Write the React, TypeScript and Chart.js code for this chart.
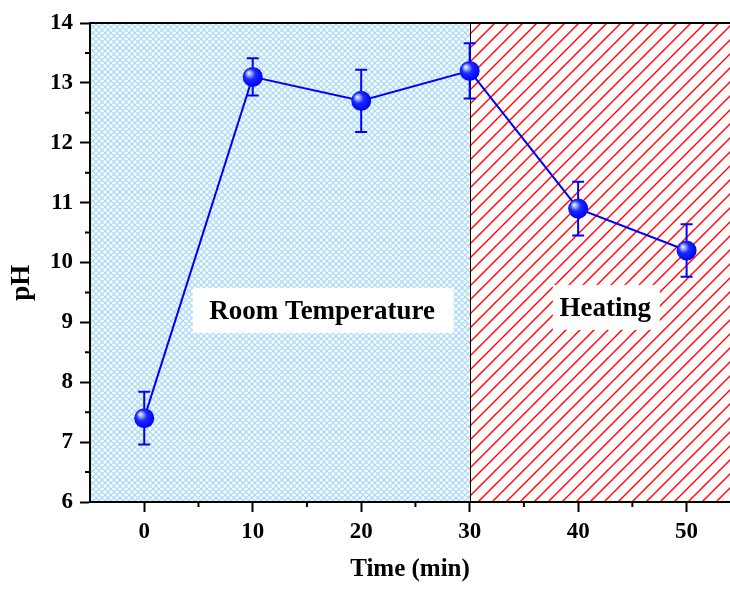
import { useEffect, useRef } from "react";
import { Chart, registerables } from "chart.js";

Chart.register(...registerables);

// ---- data ----
const times = [0, 10, 20, 30, 40, 50];
const phValues = [7.4, 13.1, 12.7, 13.2, 10.9, 10.2];
const phErrors = [0.44, 0.31, 0.52, 0.46, 0.45, 0.44];

const xTicks = [0, 10, 20, 30, 40, 50];
const xMinorTicks = [5, 15, 25, 35, 45];
const yTicks = [6, 7, 8, 9, 10, 11, 12, 13, 14];
const yMinorTicks = [6.5, 7.5, 8.5, 9.5, 10.5, 11.5, 12.5, 13.5];

const xMin = -5;
const xMax = 54;
const yMin = 6;
const yMax = 14;

const roomRange = [-5, 30];
const heatRange = [30, 54];

const regionLabels = ["Room Temperature", "Heating"];
const regionLabelX = [16.5, 42.6];
const regionLabelY = [9.2, 9.25];
const regionLabelBoxW = [261, 107];

const FONT = '"Liberation Serif", "Times New Roman", serif';

function makeCrossPattern(ctx: CanvasRenderingContext2D) {
  const s = 6;
  const c = document.createElement("canvas");
  c.width = s;
  c.height = s;
  const g = c.getContext("2d")!;
  g.fillStyle = "#ffffff";
  g.fillRect(0, 0, s, s);
  g.strokeStyle = "#a9dbf6";
  g.lineWidth = 1.3;
  g.beginPath();
  g.moveTo(-1, -1);
  g.lineTo(s + 1, s + 1);
  g.moveTo(-1, s + 1);
  g.lineTo(s + 1, -1);
  g.stroke();
  return ctx.createPattern(c, "repeat")!;
}

function makeDiagPattern(ctx: CanvasRenderingContext2D) {
  const s = 14;
  const c = document.createElement("canvas");
  c.width = s;
  c.height = s;
  const g = c.getContext("2d")!;
  g.fillStyle = "#ffffff";
  g.fillRect(0, 0, s, s);
  g.strokeStyle = "#ff0000";
  g.lineWidth = 1.4;
  g.beginPath();
  g.moveTo(-1, s + 1);
  g.lineTo(s + 1, -1);
  g.moveTo(-1 - s, s + 1);
  g.lineTo(1, -1);
  g.moveTo(s - 1, s + 1);
  g.lineTo(2 * s + 1, -1);
  g.stroke();
  return ctx.createPattern(c, "repeat")!;
}

const decorPlugin = {
  id: "decor",
  beforeDraw(chart: any) {
    const { ctx, chartArea, scales } = chart;
    const xs = scales.x;
    const { top, bottom } = chartArea;
    const l1 = xs.getPixelForValue(roomRange[0]);
    const r1 = xs.getPixelForValue(roomRange[1]);
    const l2 = xs.getPixelForValue(heatRange[0]);
    const r2 = Math.max(xs.getPixelForValue(heatRange[1]), chartArea.right);
    ctx.save();
    ctx.fillStyle = makeCrossPattern(ctx);
    ctx.fillRect(l1, top, r1 - l1, bottom - top);
    ctx.fillStyle = makeDiagPattern(ctx);
    ctx.fillRect(l2, top, r2 - l2, bottom - top);
    ctx.strokeStyle = "#000";
    ctx.lineWidth = 1;
    ctx.beginPath();
    ctx.moveTo(Math.round(r1) + 0.5, top);
    ctx.lineTo(Math.round(r1) + 0.5, bottom);
    ctx.stroke();
    ctx.restore();
  },
  beforeDatasetsDraw(chart: any) {
    const { ctx, scales } = chart;
    ctx.save();
    for (let i = 0; i < regionLabels.length; i++) {
      const cx = scales.x.getPixelForValue(regionLabelX[i]);
      const cy = scales.y.getPixelForValue(regionLabelY[i]);
      const w = regionLabelBoxW[i];
      const h = 45;
      ctx.fillStyle = "#fff";
      ctx.fillRect(cx - w / 2, cy - h / 2, w, h);
      ctx.fillStyle = "#000";
      ctx.font = `bold 27px ${FONT}`;
      ctx.textAlign = "center";
      ctx.textBaseline = "middle";
      ctx.fillText(regionLabels[i], cx - 1, cy + 1.5);
    }
    ctx.restore();
  },
  afterDatasetsDraw(chart: any) {
    const { ctx, scales } = chart;
    const xs = scales.x;
    const ys = scales.y;
    ctx.save();
    ctx.strokeStyle = "#0000ff";
    ctx.lineWidth = 2;
    for (let i = 0; i < times.length; i++) {
      const px = xs.getPixelForValue(times[i]);
      const t = ys.getPixelForValue(phValues[i] + phErrors[i]);
      const b = ys.getPixelForValue(phValues[i] - phErrors[i]);
      ctx.beginPath();
      ctx.moveTo(px, t);
      ctx.lineTo(px, b);
      ctx.moveTo(px - 6, t);
      ctx.lineTo(px + 6, t);
      ctx.moveTo(px - 6, b);
      ctx.lineTo(px + 6, b);
      ctx.stroke();
    }
    for (let i = 0; i < times.length; i++) {
      const cx = xs.getPixelForValue(times[i]);
      const cy = ys.getPixelForValue(phValues[i]);
      const r = 10;
      const g = ctx.createRadialGradient(cx - 4, cy - 4, 0.5, cx - 1, cy - 1, r + 1);
      g.addColorStop(0, "#e8efff");
      g.addColorStop(0.2, "#8fa0ff");
      g.addColorStop(0.45, "#1a2cff");
      g.addColorStop(1, "#0000f5");
      ctx.fillStyle = g;
      ctx.beginPath();
      ctx.arc(cx, cy, r, 0, Math.PI * 2);
      ctx.fill();
    }
    ctx.restore();
  },
  afterDraw(chart: any) {
    const { ctx, chartArea, scales } = chart;
    const { left, right, top, bottom } = chartArea;
    ctx.save();
    ctx.strokeStyle = "#000";
    ctx.lineWidth = 2;
    ctx.beginPath();
    ctx.moveTo(left - 1, top);
    ctx.lineTo(right, top);
    for (const v of yMinorTicks) {
      const py = scales.y.getPixelForValue(v);
      ctx.moveTo(left - 5, py);
      ctx.lineTo(left, py);
    }
    for (const v of xMinorTicks) {
      const px = scales.x.getPixelForValue(v);
      ctx.moveTo(px, bottom);
      ctx.lineTo(px, bottom + 5);
    }
    ctx.stroke();
    ctx.restore();
  },
};

export default function App() {
  const ref = useRef<HTMLCanvasElement>(null);
  useEffect(() => {
    const tickFont = { family: FONT, size: 23, weight: "bold" as const };
    const titleFontX = { family: FONT, size: 25, weight: "bold" as const };
    const titleFontY = { family: FONT, size: 27, weight: "bold" as const };
    const chart = new Chart(ref.current!, {
      type: "line",
      data: {
        datasets: [
          {
            data: times.map((t, i) => ({ x: t, y: phValues[i] })),
            borderColor: "#0000ff",
            borderWidth: 2,
            pointRadius: 0,
            tension: 0,
            fill: false,
          },
        ],
      },
      options: {
        responsive: false,
        animation: false,
        devicePixelRatio: 1,
        layout: { padding: { top: 23, left: 0, right: 0, bottom: 0 } },
        plugins: { legend: { display: false }, tooltip: { enabled: false } },
        scales: {
          x: {
            type: "linear",
            min: xMin,
            max: xMax,
            afterBuildTicks: (s: any) => {
              s.ticks = xTicks.map((v) => ({ value: v }));
            },
            afterFit: (s: any) => {
              s.height = 89;
            },
            grid: {
              display: true,
              drawOnChartArea: false,
              drawTicks: true,
              tickLength: 10,
              tickWidth: 2,
              tickColor: "#000",
            },
            border: { display: true, color: "#000", width: 2 },
            ticks: { font: tickFont, color: "#000", padding: 6, maxRotation: 0, autoSkip: false },
            title: {
              display: true,
              text: "Time (min)",
              font: titleFontX,
              color: "#000",
              padding: { top: 0, bottom: 6 },
            },
          },
          y: {
            type: "linear",
            min: yMin,
            max: yMax,
            afterBuildTicks: (s: any) => {
              s.ticks = yTicks.map((v) => ({ value: v }));
            },
            afterFit: (s: any) => {
              s.width = 90;
            },
            grid: {
              display: true,
              drawOnChartArea: false,
              drawTicks: true,
              tickLength: 10,
              tickWidth: 2,
              tickColor: "#000",
            },
            border: { display: true, color: "#000", width: 2 },
            ticks: { font: tickFont, color: "#000", padding: 7, autoSkip: false },
            title: {
              display: true,
              text: "pH      ",
              font: titleFontY,
              color: "#000",
              padding: { top: 6, bottom: 0 },
            },
          },
        },
      },
      plugins: [decorPlugin],
    });
    return () => chart.destroy();
  }, []);
  return (
    <div style={{ position: "absolute", left: 0, top: 0, width: 730, height: 591, background: "#fff" }}>
      <canvas ref={ref} width={730} height={591} style={{ display: "block" }} />
    </div>
  );
}
